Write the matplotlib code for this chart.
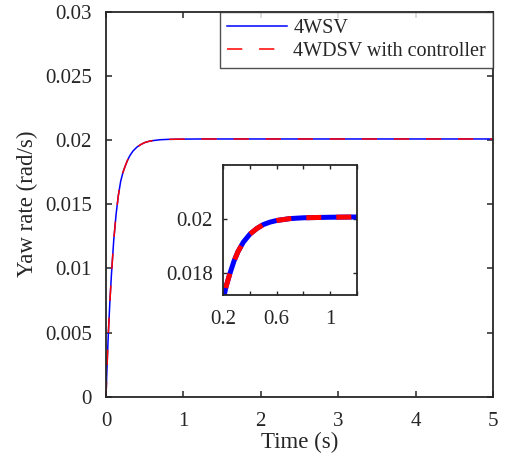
import matplotlib
matplotlib.use("Agg")
import matplotlib.pyplot as plt

# Step response of yaw rate (time in s, yaw rate in rad/s)
time_s = [0, 0.01, 0.02, 0.03, 0.05, 0.07, 0.10, 0.13, 0.16, 0.19, 0.22,
          0.25, 0.28, 0.31, 0.35, 0.40, 0.45, 0.50, 0.55, 0.60, 0.70, 0.80,
          0.90, 1.00, 1.20, 2.0, 3.0, 4.0, 5.0]
yaw_4wsv = [0, 0.0018, 0.0034, 0.0049, 0.0074, 0.0095, 0.0122, 0.0142,
            0.0157, 0.0168, 0.0175, 0.0180, 0.01845, 0.0188, 0.01915,
            0.01945, 0.01965, 0.0198, 0.01989, 0.01995, 0.02002, 0.02005,
            0.02006, 0.02007, 0.02008, 0.02008, 0.02008, 0.02008, 0.02008]
yaw_4wdsv = [0, 0.0018, 0.0034, 0.0049, 0.0074, 0.0095, 0.0122, 0.0142,
             0.0157, 0.0168, 0.0175, 0.0180, 0.01845, 0.0188, 0.01915,
             0.01945, 0.01965, 0.0198, 0.01989, 0.01995, 0.02002, 0.02005,
             0.02006, 0.02007, 0.02008, 0.02008, 0.02008, 0.02008, 0.02008]

series_labels = ["4WSV", "4WDSV with controller"]
main_xticks = [0, 1, 2, 3, 4, 5]
main_yticks = [0, 0.005, 0.01, 0.015, 0.02, 0.025, 0.03]
main_yticklabels = ["0", "0.005", "0.01", "0.015", "0.02", "0.025", "0.03"]
inset_xticks = [0.2, 0.4, 0.6, 0.8, 1.0, 1.2]
inset_xticklabels = ["0.2", "", "0.6", "", "1", ""]
inset_yticks = [0.018, 0.02]
inset_yticklabels = ["0.018", "0.02"]

ink = "#262626"
plt.rcParams["font.family"] = ["Liberation Serif", "DejaVu Serif"]
plt.rcParams["text.color"] = ink
plt.rcParams["axes.labelcolor"] = ink
plt.rcParams["xtick.color"] = ink
plt.rcParams["ytick.color"] = ink

fig = plt.figure(figsize=(5.05, 4.66), dpi=100)
ax = fig.add_axes([0.2099, 0.1481, 0.7663, 0.8272])

ax.plot(time_s, yaw_4wsv, color="#0000ff", lw=1.1, label=series_labels[0])
ax.plot(time_s, yaw_4wdsv, color="#ff0000", lw=1.1,
        dashes=(10, 11), label=series_labels[1])

ax.set_xlim(0, 5)
ax.set_ylim(0, 0.03)
ax.set_xticks(main_xticks)
ax.set_xticklabels([str(v) for v in main_xticks])
ax.set_yticks(main_yticks)
ax.set_yticklabels(main_yticklabels)
ax.tick_params(direction="in", length=4, width=1.1, labelsize=15,
               top=True, right=True)
ax.tick_params(axis="x", pad=10.5)
ax.tick_params(axis="y", pad=10)
for sp in ax.spines.values():
    sp.set_linewidth(1.3)
    sp.set_color(ink)
ax.set_xlabel("Time (s)", fontsize=16.5, labelpad=1)
ax.set_ylabel("Yaw rate (rad/s)", fontsize=16.5, labelpad=5)

leg = ax.legend(loc="upper right", fontsize=14.5, frameon=True, fancybox=False,
                borderaxespad=0, handlelength=3.0, handletextpad=0.3,
                borderpad=0.35, labelspacing=0.2)
leg.get_frame().set_edgecolor(ink)
leg.get_frame().set_linewidth(1.0)

# Zoomed view of the rise toward steady state
ins = fig.add_axes([0.4422, 0.367, 0.2642, 0.279])
ins.plot(time_s, yaw_4wsv, color="#0000ff", lw=3.6, solid_capstyle="butt")
ins.plot(time_s, yaw_4wdsv, color="#ff0000", lw=3.6, dashes=(3, 3),
         dash_capstyle="butt")
ins.set_xlim(0.2, 1.2)
ins.set_ylim(0.0172, 0.022)
ins.set_xticks(inset_xticks)
ins.set_xticklabels(inset_xticklabels)
ins.set_yticks(inset_yticks)
ins.set_yticklabels(inset_yticklabels)
ins.tick_params(direction="in", length=3, width=1.0, labelsize=15,
                top=True, right=True)
ins.tick_params(axis="x", pad=10.5)
ins.tick_params(axis="y", pad=7.5)
for sp in ins.spines.values():
    sp.set_linewidth(1.3)
    sp.set_color(ink)

fig.savefig("out.png", dpi=100)
